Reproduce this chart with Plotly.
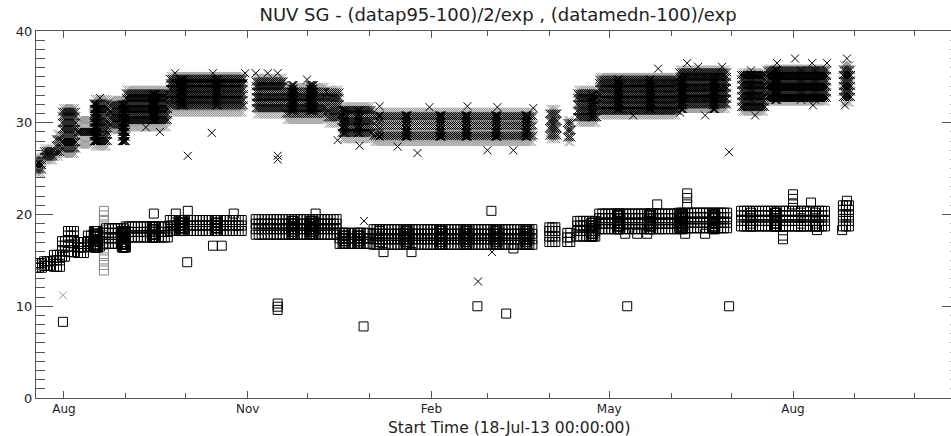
import numpy as np
import pandas as pd
import plotly.graph_objects as go

START = pd.Timestamp("2013-07-18")
X_END_DAYS = 458.1

# ---------------- p95 series (crosses) : black groups ----------------
p95_blk_start = [0, 4, 10, 13, 21, 29, 37, 45, 67, 110, 125, 146, 153, 169, 257, 266, 271, 282, 322, 353, 366, 404]
p95_blk_end   = [3, 9, 12, 20, 28, 36, 44, 66, 104, 124, 145, 152, 168, 249, 261, 268, 281, 321, 346, 365, 396, 408]
p95_blk_levels = [
    [24.9, 25.4, 25.9],
    [26.3, 26.9],
    [26.8, 27.5, 28.2],
    [27.2, 27.9, 28.6, 29.3, 30.0, 30.7, 31.2],
    [29.0],
    [28.0, 28.7, 29.4, 30.1, 30.8, 31.5, 32.1],
    [29.8, 30.5, 31.2, 31.9],
    [30.3, 30.9, 31.5, 32.1, 32.7, 33.2],
    [31.9, 32.5, 33.1, 33.7, 34.3, 34.8],
    [31.6, 32.2, 32.8, 33.4, 34.0, 34.5],
    [31.0, 31.6, 32.2, 32.8, 33.4],
    [30.6, 31.3, 32.0, 32.7, 33.3],
    [28.9, 29.5, 30.2, 30.9, 31.4],
    [28.6, 29.7, 30.7],
    [28.6, 29.4, 30.2, 31.0],
    [28.4, 29.2, 30.0],
    [30.6, 31.3, 32.0, 32.7, 33.2],
    [31.3, 31.9, 32.5, 33.1, 33.7, 34.3, 34.7],
    [32.0, 32.6, 33.2, 33.8, 34.4, 35.0, 35.5],
    [31.7, 32.3, 32.9, 33.5, 34.1, 34.7, 35.2],
    [32.7, 33.3, 33.9, 34.5, 35.1, 35.7],
    [32.8, 33.4, 34.0, 34.6, 35.2, 35.8],
]
# p95 series : grey groups
p95_gry_levels = [
    [24.5, 26.3],
    [25.9, 26.6, 27.2],
    [26.3, 28.8],
    [26.6, 31.6],
    [27.6, 28.3, 29.0, 29.7, 30.3],
    [27.4, 32.6],
    [29.2, 29.9, 30.6, 31.3, 32.0, 32.5],
    [29.5, 30.1, 30.7, 31.3, 31.9, 32.5, 33.1, 33.6],
    [31.1, 31.7, 32.3, 32.9, 33.5, 34.1, 34.7, 35.1],
    [30.9, 31.5, 32.1, 32.7, 33.3, 33.9, 34.5, 34.9],
    [30.3, 30.9, 31.5, 32.1, 32.7, 33.3, 33.9],
    [29.9, 30.5, 31.1, 31.7, 32.3, 32.9, 33.6],
    [28.2, 28.8, 29.4, 30.0, 30.6, 31.2, 31.8],
    [27.9, 28.4, 29.0, 29.6, 30.2, 30.8, 31.2],
    [28.2, 28.9, 29.6, 30.3, 31.0, 31.5],
    [27.9, 28.5, 29.1, 29.7, 30.3],
    [30.0, 30.6, 31.2, 31.8, 32.4, 33.0, 33.6],
    [30.8, 31.4, 32.0, 32.6, 33.2, 33.8, 34.4, 35.0],
    [31.5, 32.1, 32.7, 33.3, 33.9, 34.5, 35.1, 35.8],
    [31.2, 31.8, 32.4, 33.0, 33.6, 34.2, 34.8, 35.5],
    [32.3, 32.9, 33.5, 34.1, 34.7, 35.3, 35.9],
    [32.2, 32.9, 33.6, 34.3, 35.0, 35.7, 36.3],
]
# isolated p95 points (day, value)
p95_extra_day = [76, 88, 121, 121, 347, 311.5, 228.3, 221.3, 164.2, 32, 69.6, 88.6, 104.7, 110, 116, 121,
                 135.7, 35.5, 55, 62, 326, 331.5, 343.5, 371, 380, 388.6, 396, 406, 299, 322.5, 335, 360, 389, 405,
                 151, 162, 181, 191, 226, 239, 172, 197, 216, 231, 249]
p95_extra_val = [26.4, 28.9, 26.0, 26.4, 26.8, 35.9, 15.9, 12.7, 19.3, 32.7, 35.4, 35.4, 35.4, 35.4, 35.4, 35.4,
                 34.7, 29.0, 29.5, 29.0, 36.5, 36.1, 36.1, 36.5, 37.0, 36.5, 36.5, 37.0, 30.8, 31.1, 30.8, 30.8, 31.9, 31.9,
                 28.1, 27.5, 27.4, 26.7, 27.0, 27.0, 31.8, 31.7, 31.8, 31.7, 31.6]
p95_grey_extra_day = [13.5]
p95_grey_extra_val = [11.2]

# ---------------- median series (squares) ----------------
med_start = [0, 4, 9, 13, 16, 21, 26, 35, 45, 67, 110, 152, 169, 257, 266, 271, 282, 322, 353, 404]
med_end   = [3, 8, 12, 15, 20, 25, 33, 44, 66, 104, 151, 168, 249, 261, 268, 281, 321, 346, 396, 408]
med_levels = [
    [14.2, 14.7],
    [14.4, 14.9],
    [14.3, 15.0, 15.6],
    [15.4, 16.0, 16.6, 17.1],
    [15.9, 16.5, 17.1, 17.7, 18.2],
    [15.8, 16.4, 17.0],
    [16.5, 17.1, 17.7],
    [16.8, 17.4, 18.0, 18.5],
    [17.5, 18.1, 18.7],
    [18.2, 18.8, 19.4],
    [17.8, 18.4, 19.0, 19.5],
    [16.8, 17.4, 18.0],
    [16.7, 17.3, 17.9, 18.4],
    [17.0, 17.6, 18.2, 18.6],
    [17.0, 17.5, 18.0],
    [17.6, 18.2, 18.8, 19.3],
    [18.4, 19.0, 19.6, 20.1],
    [18.5, 19.1, 19.7, 20.2],
    [18.7, 19.3, 19.9, 20.4],
    [18.7, 19.3, 19.9, 20.5, 21.0],
]
med_extra_day = [13.5, 75.7, 88.6, 93.0, 121, 121, 121, 164, 221, 228, 235.4, 296, 347, 374, 374,
                 59, 70, 76, 99, 140, 174, 188, 239, 295, 301, 306, 325, 335, 391, 403.6,
                 311, 326, 326, 326, 379, 379, 379, 388, 406]
med_extra_val = [8.3, 14.8, 16.6, 16.6, 9.6, 9.95, 10.3, 7.8, 10.0, 20.4, 9.2, 10.0, 10.0, 17.3, 17.7,
                 20.1, 20.1, 20.4, 20.1, 20.1, 15.9, 15.9, 16.3, 17.9, 17.9, 17.9, 17.9, 17.9, 18.3, 18.3,
                 21.1, 21.1, 21.8, 22.3, 21.1, 21.7, 22.2, 21.3, 21.5]
med_column_day = 34
med_column_vals = [13.9, 14.5, 15.1, 15.7, 16.3, 16.9, 17.5, 18.1, 18.7, 19.3, 19.9, 20.4]

# days with many observations (dense vertical columns)
burst_start = [29, 43, 58, 72, 90, 128, 137, 154, 161, 172, 185, 202, 215, 230, 245, 278, 291, 307, 323, 339, 358, 370, 383, 390]
burst_end   = [31, 45, 60, 74, 91, 129, 139, 155, 162, 172, 186, 203, 216, 231, 246, 279, 292, 308, 324, 340, 358, 371, 383, 390]
burst_region_start = [0, 45, 67, 110, 153, 169, 271, 282, 353]
med_burst_sets = [
    [16.4, 16.7, 17.0, 17.3, 17.6, 17.9, 18.2],
    [17.5, 17.8, 18.1, 18.4, 18.7],
    [18.2, 18.5, 18.8, 19.1, 19.4],
    [17.8, 18.1, 18.4, 18.7, 19.0, 19.3],
    [16.8, 17.1, 17.4, 17.7, 18.0],
    [16.7, 17.0, 17.3, 17.6, 17.9, 18.2, 18.4],
    [17.6, 17.9, 18.2, 18.5, 18.8, 19.1],
    [18.4, 18.7, 19.0, 19.3, 19.6, 19.9, 20.1],
    [18.7, 19.0, 19.3, 19.6, 19.9, 20.2],
]
p95_burst_sets = [
    [28.0, 28.5, 29.0, 29.5, 30.0, 30.5, 31.0, 31.5, 32.0],
    [30.3, 30.7, 31.1, 31.5, 31.9, 32.3, 32.7, 33.1],
    [31.9, 32.3, 32.7, 33.1, 33.5, 33.9, 34.3, 34.7],
    [31.3, 31.7, 32.1, 32.5, 32.9, 33.3, 33.7, 34.1],
    [28.9, 29.3, 29.7, 30.1, 30.5, 30.9, 31.3],
    [28.5, 28.9, 29.3, 29.7, 30.1, 30.5, 30.8],
    [30.6, 31.0, 31.4, 31.8, 32.2, 32.6, 33.0],
    [31.5, 31.9, 32.3, 32.7, 33.1, 33.5, 33.9, 34.3, 34.7],
    [32.5, 32.9, 33.3, 33.7, 34.1, 34.5, 34.9, 35.3, 35.7],
]

# ---------------- axis ticks ----------------
major_tick_dates = ["2013-08-01", "2013-11-01", "2014-02-01", "2014-05-01", "2014-08-01"]
major_tick_text = ["Aug", "Nov", "Feb", "May", "Aug"]
minor_tick_dates = ["2013-08-01", "2013-09-01", "2013-10-01", "2013-11-01", "2013-12-01", "2014-01-01",
                    "2014-02-01", "2014-03-01", "2014-04-01", "2014-05-01", "2014-06-01", "2014-07-01",
                    "2014-08-01", "2014-09-01", "2014-10-01"]
y_tick_vals = [0, 10, 20, 30, 40]

TITLE = "NUV SG - (datap95-100)/2/exp , (datamedn-100)/exp"
XTITLE = "Start Time (18-Jul-13 00:00:00)"


def expand(starts, ends, levels, step=1.0, offset=0.0):
    xs, ys = [], []
    for s, e, lv in zip(starts, ends, levels):
        for d in np.arange(s + offset, e + 1e-9, step):
            for v in lv:
                xs.append(d)
                ys.append(v)
    return xs, ys


def bursts(sets):
    xs, ys = [], []
    for s, e in zip(burst_start, burst_end):
        idx = max(i for i, r in enumerate(burst_region_start) if r <= s)
        for d in np.arange(s, e + 1e-9, 0.5):
            for v in sets[idx]:
                xs.append(d)
                ys.append(v)
    return xs, ys


def to_dates(days):
    return START + pd.to_timedelta(np.asarray(days, dtype=float), unit="D")


CROSS = dict(symbol="x-thin-open", size=8)
SQUARE = dict(symbol="square-open", size=9)

fig = go.Figure()

# grey crosses
gx, gy = expand(p95_blk_start, p95_blk_end, p95_gry_levels, offset=0.5)
gx += p95_grey_extra_day
gy += p95_grey_extra_val
fig.add_trace(go.Scatter(x=to_dates(gx), y=gy, mode="markers",
                         marker=dict(**CROSS, color="#999999", line=dict(width=1, color="#999999")),
                         showlegend=False, hoverinfo="skip"))
# black crosses
bx, by = expand(p95_blk_start, p95_blk_end, p95_blk_levels)
bbx, bby = bursts(p95_burst_sets)
bx = bx + bbx + p95_extra_day
by = by + bby + p95_extra_val
fig.add_trace(go.Scatter(x=to_dates(bx), y=by, mode="markers",
                         marker=dict(**CROSS, color="black", line=dict(width=1, color="black")),
                         showlegend=False, hoverinfo="skip"))
# grey squares (dense column)
fig.add_trace(go.Scatter(x=to_dates([med_column_day] * len(med_column_vals)), y=med_column_vals, mode="markers",
                         marker=dict(**SQUARE, color="#888888", line=dict(width=1, color="#888888")),
                         showlegend=False, hoverinfo="skip"))
# black squares
sx, sy = expand(med_start, med_end, med_levels, step=1.5)
sbx, sby = bursts(med_burst_sets)
sx = sx + sbx + med_extra_day
sy = sy + sby + med_extra_val
fig.add_trace(go.Scatter(x=to_dates(sx), y=sy, mode="markers",
                         marker=dict(**SQUARE, color="black", line=dict(width=1, color="black")),
                         showlegend=False, hoverinfo="skip"))
# helper trace for right-hand tick axis
fig.add_trace(go.Scatter(x=[None], y=[None], yaxis="y2", showlegend=False, hoverinfo="skip"))

AX = "#555555"
FONT = "DejaVu Sans"

fig.update_layout(
    width=951, height=436,
    margin=dict(l=36, r=0, t=31, b=38),
    paper_bgcolor="white", plot_bgcolor="white",
    font=dict(family=FONT, color="#222222", size=12),
    title=dict(text=TITLE, x=498 / 951, xanchor="center", y=1 - 15 / 436, yanchor="middle",
               font=dict(family=FONT, size=18, color="#222222")),
    xaxis=dict(type="date", range=[START, START + pd.Timedelta(days=X_END_DAYS)],
               tickmode="array", tickvals=major_tick_dates, ticktext=major_tick_text,
               ticks="inside", ticklen=7, tickcolor=AX, tickwidth=1,
               minor=dict(tickmode="array", tickvals=minor_tick_dates, ticks="inside", ticklen=5,
                          tickcolor=AX, showgrid=False),
               showline=True, linecolor=AX, linewidth=1, mirror="ticks",
               showgrid=False, zeroline=False, tickfont=dict(size=12)),
    yaxis=dict(range=[0, 40], tickmode="array", tickvals=y_tick_vals,
               ticks="inside", ticklen=17, tickcolor=AX, tickwidth=1,
               minor=dict(dtick=1, ticks="inside", ticklen=9, tickcolor=AX, showgrid=False),
               showline=True, linecolor=AX, linewidth=1,
               showgrid=False, zeroline=False, tickfont=dict(size=13)),
    yaxis2=dict(range=[0, 40], overlaying="y", side="right", anchor="x",
                tickmode="array", tickvals=y_tick_vals, ticks="inside", ticklen=9,
                tickcolor=AX, showticklabels=False, showline=False, showgrid=False, zeroline=False,
                minor=dict(dtick=1, ticks="inside", ticklen=1, tickcolor="#aaaaaa", showgrid=False)),
    annotations=[dict(text=XTITLE, xref="paper", yref="paper", x=(509 - 36) / 915, y=-30 / 367,
                      xanchor="center", yanchor="middle", showarrow=False,
                      font=dict(family=FONT, size=15.5, color="#222222"))],
)

fig.write_html("out.html")
